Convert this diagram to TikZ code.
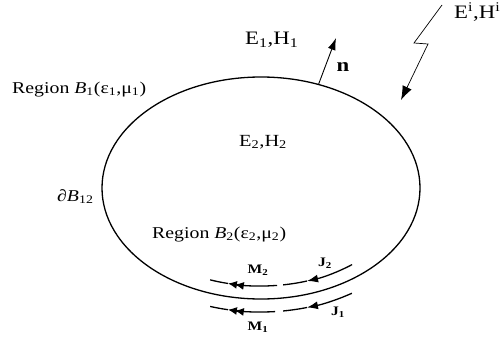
\documentclass[tikz,border=0pt]{standalone}
\usepackage{fontspec}
\setmainfont{Liberation Serif}
\usetikzlibrary{arrows.meta, calc, shapes.geometric}
\newcommand{\wide}[1]{\scalebox{1.2}[1]{#1}}

\begin{document}
\begin{tikzpicture}[x=1pt, y=1pt, >={Latex[length=12pt,width=8pt]},
    region/.style={font=\fontsize{16.5}{18}\selectfont, inner sep=0pt, anchor=base west},
    field/.style={font=\fontsize{#1}{#1}\selectfont, inner sep=0pt, anchor=base west},
    field/.default=19,
    current/.style={font=\bfseries\fontsize{13}{14}\selectfont, inner sep=0pt},
    flow/.style={line width=1.3pt},
    onehead/.style={-{Latex[length=11pt,width=8pt]}},
    twohead/.style={-{Latex[length=9pt,width=8pt,sep=-2pt] Latex[length=9pt,width=8pt]}}]
\useasboundingbox (0,0) rectangle (501,341);
\coordinate (c) at (261,153);
\node[draw, ellipse, line width=1.3pt, minimum width=318, minimum height=222, inner sep=0pt] (bnd) at (c) {};

% labels
\node[region] (b1) at (12,248) {\wide{Region \textit{B}\textsubscript{1}(ε\textsubscript{1},μ\textsubscript{1})}};
\node[region] (b2) at (152,103) {\wide{Region \textit{B}\textsubscript{2}(ε\textsubscript{2},μ\textsubscript{2})}};
\node[region] (b12) at (57,140) {\wide{\textit{∂B}\textsubscript{12}}};
\node[field] (f1) at (245,296) {\wide{E\textsubscript{1},H\textsubscript{1}}};
\node[field=17] (f2) at (239,195) {\wide{E\textsubscript{2},H\textsubscript{2}}};
\node[field] (fi) at (454,323) {\wide{E\textsuperscript{i},H\textsuperscript{i}}};

% incident wave
\coordinate (inc) at (442,336);
\coordinate (k1) at (414,298);
\coordinate (k2) at (428,297);
\coordinate (hit) at (401,241);
\draw[-{Latex[length=14pt,width=10pt]}, line width=0.7pt] (inc) -- (k1) -- (k2) -- (hit);

% normal
\coordinate (ntip) at (336,303);
\draw[->, line width=0.9pt] (bnd.61) -- (ntip);
\node[font=\bfseries\fontsize{19}{19}\selectfont, inner sep=0pt] (n) at (343,274) {\wide{n}};

% surface currents
\coordinate (m2) at ($(c)+(276.3:146 and 98)$);
\coordinate (m2h) at ($(c)+(256.9:146 and 98)$);
\coordinate (j2) at ($(c)+(308.6:146 and 98)$);
\coordinate (j2h) at ($(c)+(288.4:146 and 98)$);
\coordinate (m1) at ($(c)+(274.7:172 and 124)$);
\coordinate (m1h) at ($(c)+(258.9:172 and 124)$);
\coordinate (j1) at ($(c)+(301.9:172 and 124)$);
\coordinate (j1h) at ($(c)+(285.5:172 and 124)$);
\draw[flow, twohead] (m2) arc[start angle=276.3, end angle=256.9, x radius=146, y radius=98];
\draw[flow] (m2h) arc[start angle=256.9, end angle=249.6, x radius=146, y radius=98];
\draw[flow, onehead] (j2) arc[start angle=308.6, end angle=288.4, x radius=146, y radius=98];
\draw[flow] (j2h) arc[start angle=288.4, end angle=278.7, x radius=146, y radius=98];
\draw[flow, twohead] (m1) arc[start angle=274.7, end angle=258.9, x radius=172, y radius=124];
\draw[flow] (m1h) arc[start angle=258.9, end angle=252.8, x radius=172, y radius=124];
\draw[flow, onehead] (j1) arc[start angle=301.9, end angle=285.5, x radius=172, y radius=124];
\draw[flow] (j1h) arc[start angle=285.5, end angle=277.4, x radius=172, y radius=124];
\node[current] (lm2) at (258,71) {\wide{M\textsubscript{2}}};
\node[current] (lj2) at (325,78) {\wide{J\textsubscript{2}}};
\node[current] (lm1) at (258,14) {\wide{M\textsubscript{1}}};
\node[current] (lj1) at (338,29) {\wide{J\textsubscript{1}}};
\end{tikzpicture}
\end{document}
